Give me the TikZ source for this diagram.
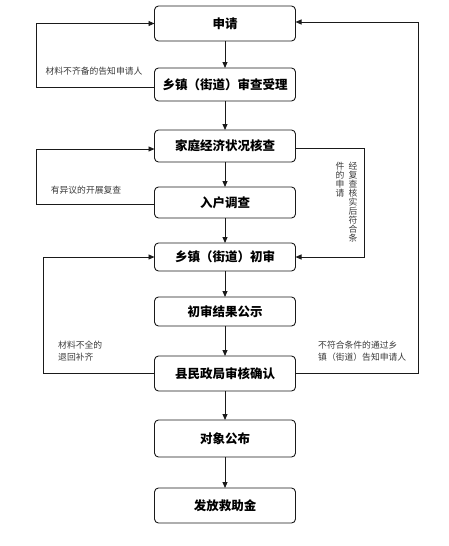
\documentclass[tikz,border=0pt]{standalone}
\usepackage{fontspec}
\setmainfont{Noto Sans CJK SC}
\usetikzlibrary{arrows.meta, positioning}
\definecolor{ink}    {HTML}{1A1A1A}
\definecolor{inksoft}{HTML}{3A3A3A}
\tikzset{
  box/.style   = {draw=ink, line width=0.9pt, rounded corners=4pt,
                  fill=white, minimum width=141pt, align=center,
                  inner sep=0pt, outer sep=0pt,
                  font=\fontsize{12.5}{14}\selectfont\bfseries},
  arr/.style   = {-{Triangle[length=6pt,width=5pt]}, line width=0.9pt, ink},
  note/.style  = {font=\fontsize{8.8}{12}\selectfont, text=inksoft,
                  align=left, inner sep=0pt},
  vnote/.style = {note, align=center, text width=9pt,
                  font=\fontsize{8.8}{9}\selectfont},
}
\begin{document}
\begin{tikzpicture}[x=1pt, y=-1pt, node distance=27pt]
  \useasboundingbox (0,0) rectangle (448,546);

  % main steps
  \node[box, minimum height=35pt] (apply) at (225,23.5) {申请};
  \node[box, minimum height=33pt, below=27pt of apply] (accept) {乡镇（街道）审查受理};
  \node[box, minimum height=32pt, below=29pt of accept] (check) {家庭经济状况核查};
  \node[box, minimum height=31pt, below=25pt of check] (visit) {入户调查};
  \node[box, minimum height=28pt, below=25pt of visit] (first) {乡镇（街道）初审};
  \node[box, minimum height=29pt, below=26pt of first] (notice) {初审结果公示};
  \node[box, minimum height=35pt, below=30pt of notice] (county) {县民政局审核确认};
  \node[box, minimum height=37pt, below=29pt of county] (publish) {对象公布};
  \node[box, minimum height=35pt, below=31pt of publish] (pay) {发放救助金};

  % main flow arrows
  \draw[arr] (apply)   -- (accept);
  \draw[arr] (accept)  -- (check);
  \draw[arr] (check)   -- (visit);
  \draw[arr] (visit)   -- (first);
  \draw[arr] (first)   -- (notice);
  \draw[arr] (notice)  -- (county);
  \draw[arr] (county)  -- (publish);
  \draw[arr] (publish) -- (pay);

  % return loops on the left
  \draw[arr] ([yshift=-2.5pt]accept.west) -- ++(-118pt,0) |- (apply.west);
  \draw[arr] ([yshift=-1.5pt]visit.west) -- ++(-118pt,0) |- ([yshift=-3pt]check.west);
  \draw[arr] (county.west) -- ++(-111pt,0) |- (first.west);

  % loops on the right
  \draw[arr] ([yshift=-2pt]check.east) -- ++(69pt,0) |- (first.east);
  \draw[arr] (county.east) -- ++(123pt,0) |- ([yshift=1.5pt]apply.east);

  % labels
  \node[note] (lblmiss) at (94,71) {材料不齐备的告知申请人};
  \node[note] (lblobj) at (86,190) {有异议的开展复查};
  \node[note, anchor=west] (lblback) at (58,351) {材料不全的\\退回补齐};
  \node[note, anchor=west] (lblrej) at (318,351)
    {不符合条件的通过乡\\镇（街道）告知申请人};
  \node[vnote, anchor=north] (lblokA) at (353,162) {经\\复\\查\\核\\实\\后\\符\\合\\条};
  \node[vnote, anchor=north] (lblokB) at (340,162) {件\\的\\申\\请};

\end{tikzpicture}
\end{document}
